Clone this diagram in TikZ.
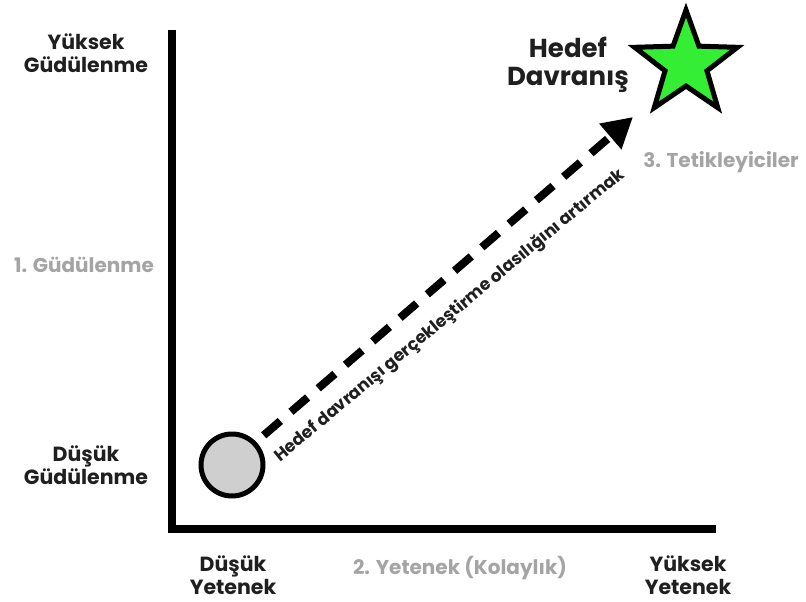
\documentclass[tikz,border=0pt]{standalone}
\usepackage{fontspec}
\setmainfont{Poppins}
\usetikzlibrary{arrows.meta,shapes.geometric}
\definecolor{stargreen}{HTML}{33EE33}
\definecolor{labelgray}{HTML}{A4A4A4}
\definecolor{dotgray}{HTML}{CFCFCF}
\begin{document}
\begin{tikzpicture}[x=1pt,y=-1pt,
  axislbl/.style={font=\bfseries\fontsize{20.5}{23}\selectfont, align=center, text=black!88, inner sep=1pt},
  dimlbl/.style={font=\bfseries\fontsize{20}{22}\selectfont, text=labelgray},
  axisline/.style={line width=8pt, line cap=rect},
]
\useasboundingbox (0,0) rectangle (806,602);
% axes
\coordinate (top) at (172,34);
\coordinate (origin) at (172,529);
\coordinate (right) at (712,529);
\draw[axisline] (top) -- (origin) -- (right);
% start point
\node[circle, draw, line width=5pt, fill=dotgray, minimum size=62pt, inner sep=0] (start) at (232,465) {};
% star
\node[star, star points=5, star point ratio=2.45, draw, line width=5pt, fill=stargreen, minimum size=108pt, inner sep=0] (goal) at (686,64) {};
\coordinate (tip) at (633,117);
% arrow
\draw[line width=8pt, dash pattern=on 22pt off 14pt, -{Triangle[length=30pt,width=32pt]}] (start.45) ++(8,-6) coordinate (s) (s) -- (tip);
% label along arrow
\node[font=\bfseries\fontsize{17}{18}\selectfont, rotate=39.6, anchor=south west, inner sep=0pt, text=black!88] (lbl) at (283,466) {Hedef davranışı gerçekleştirme olasılığını artırmak};
% texts
\node[font=\bfseries\fontsize{26}{28}\selectfont, align=center, text=black!88] (hd) at (568,65) {Hedef\\Davranış};
\node[axislbl] (yg) at (86,53) {Yüksek\\Güdülenme};
\node[axislbl] (dg) at (86,465) {Düşük\\Güdülenme};
\node[axislbl] (dy) at (233,575) {Düşük\\Yetenek};
\node[axislbl] (yy) at (688,575) {Yüksek\\Yetenek};
\node[dimlbl] (g1) at (84,265) {1. Güdülenme};
\node[dimlbl] (y2) at (460,568) {2. Yetenek (Kolaylık)};
\node[dimlbl] (t3) at (721,162) {3. Tetikleyiciler};
\end{tikzpicture}
\end{document}
